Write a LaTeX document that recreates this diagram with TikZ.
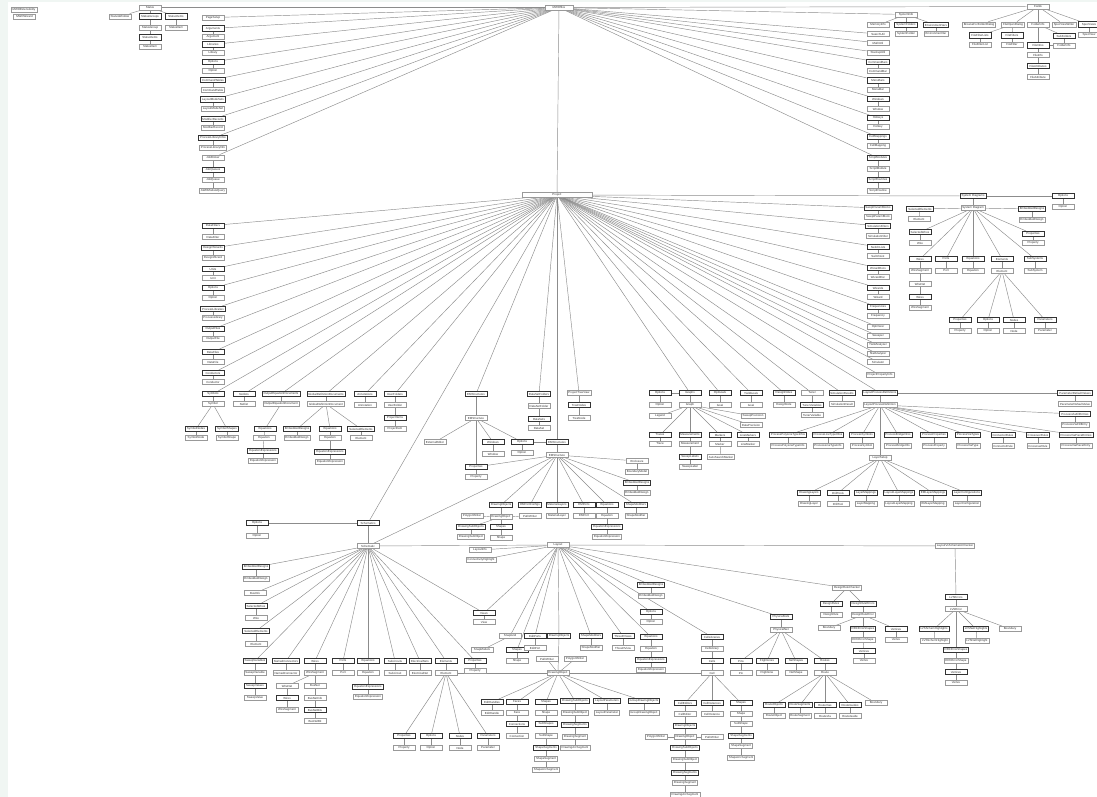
\documentclass[tikz,border=0pt]{standalone}
\usepackage{fontspec}
\setmainfont{Liberation Sans}
\pgfdeclarelayer{bgl}
\pgfdeclarelayer{edges}
\pgfsetlayers{bgl,edges,main}
\definecolor{bandc}{RGB}{240,246,243}
\tikzset{
 box/.style={rectangle, fill=white, minimum width=22pt, minimum height=5.2pt, inner xsep=1.5pt, inner ysep=0pt, font=\fontsize{2.9}{3}\selectfont, text=black!80},
 coll/.style={box, draw=black!80, line width=0.8pt},
 item/.style={box, draw=black!40, line width=0.55pt},
 edge/.style={draw=black!45, line width=0.45pt},
}
\def\mkc#1#2#3#4{\node[coll] (#1) at (#2,#3) {#4};}
\def\mki#1#2#3#4{\node[item] (#1) at (#2,#3) {#4};}
\def\lnk#1#2{\draw[edge] (#1) -- (#2);}
\begin{document}
\begin{tikzpicture}[x=1pt,y=-1pt]
\useasboundingbox (0,0) rectangle (1097,797);
\begin{pgfonlayer}{bgl}
\fill[bandc] (0,0) rectangle (1097,797);
\fill[white] (8,2) rectangle (1097,797);
\end{pgfonlayer}
% ---------- top left
\mki{ext}{24}{9.5}{MWOExtensibility}
\mki{wiz}{24.5}{16.5}{MWOWizard}
\node[item, minimum width=28pt] (mwo) at (559,7.5) {MWOffice};
\mki{status}{150}{7.5}{Status}
\mki{statwin}{120}{16.5}{StatusWindow}
\mkc{stgrps}{150}{16.5}{StatusGroups}
\mkc{stitms}{176}{16.5}{StatusItems}
\mki{stgrp}{150}{27.5}{StatusGroup}
\mkc{stitms2}{150}{37.5}{StatusItems}
\mki{stitm2}{150}{46.5}{StatusItem}
\mki{stitm}{176}{27.5}{StatusItem}
% column 213
\mki{pgs}{213}{17.5}{PageSetup}
\mkc{args}{213}{28.5}{Arguments}
\mki{arg}{213}{37}{Argument}
\mkc{libs}{213}{44.5}{Libraries}
\mki{lib}{213}{52.5}{Library}
\mkc{opts0}{213}{62}{Options}
\mki{opt0}{213}{71}{Option}
\mkc{cmdts}{213}{80}{CommandTables}
\mki{cmdt}{213}{90}{CommandTable}
\mkc{lms}{213}{99.5}{LayoutModeSets}
\mki{lm}{213}{109}{LayoutModeSet}
\mkc{mrs}{213}{119}{ModifierRecords}
\mki{mr}{213}{127.5}{ModifierRecord}
\mkc{plis}{213}{138}{ProcessLibraryInfos}
\mki{pli}{213}{147.5}{ProcessLibraryInfo}
\mki{jb}{213}{157.5}{JobBroker}
\mkc{jqs}{213}{170}{JobQueues}
\mki{jq}{213}{180}{JobQueue}
\mki{awq}{213}{191}{AWRModuleQuery}
% right column 878
\mki{sysinfo}{906}{14.5}{SystemInfo}
\mki{meminfo}{878}{25}{MemoryInfo}
\mkc{sysfs}{906}{25}{SystemFolders}
\mki{sysf}{906}{33.5}{SystemFolder}
\mkc{envs}{936}{25}{EnvironmentVars}
\mki{env}{936}{33.5}{EnvironmentVar}
\mki{srch}{878}{34}{SearchUtil}
\mki{math}{878}{43}{MathUtil}
\mki{stack}{878}{52.5}{StackupUtil}
\mkc{cbars}{878}{62}{CommandBars}
\mki{cbar}{878}{71}{CommandBar}
\mkc{mbars}{878}{80.5}{MenuBars}
\mki{mbar}{878}{90}{MenuBar}
\mkc{wins0}{878}{99}{Windows}
\mki{win0}{878}{109}{Window}
\mkc{hks}{878}{118}{Hotkeys}
\mki{hk}{878}{127}{Hotkey}
\mkc{cms}{878}{137}{CellMappings}
\mki{cm}{878}{146}{CellMapping}
\mkc{sms}{878}{158}{ScriptModules}
\mki{sm}{878}{169}{ScriptModule}
\mkc{srs}{878}{180}{ScriptRoutines}
\mki{sr}{878}{191}{ScriptRoutine}
% fields
\mki{fields}{1038}{6.5}{Fields}
\mki{bffd}{979}{24.5}{BrowseForFolderDialog}
\mki{fod}{1013}{24.5}{FileOpenDialog}
\mki{fldi}{1038}{24.5}{FolderInfo}
\mki{svw}{1064}{24.5}{SpecViewWriter}
\mkc{svs}{1089}{24.5}{SpecViews}
\mki{sv}{1089}{35}{SpecView}
\mkc{ffls}{980}{35.5}{FileFilterLists}
\mki{ffl}{980}{44.5}{FileFilterList}
\mkc{ffs}{1012}{35.5}{FileFilters}
\mki{ff}{1012}{44.5}{FileFilter}
\mkc{fis}{1038}{45.5}{FileInfos}
\mki{fi}{1038}{55}{FileInfo}
\mkc{fas}{1038}{66}{FileAttributes}
\mki{fa}{1038}{77}{FileAttribute}
\mkc{subfs}{1064}{36}{SubFolders}
\mki{subf}{1064}{45.5}{FolderInfo}
% ---------- project
\node[item, minimum width=70pt] (proj) at (557,195) {Project};
% system diagrams
\mkc{sds}{973}{196}{System Diagrams}
\mkc{sdopts}{1063}{196}{Options}
\mki{sdopt}{1063}{207}{Option}
\mki{sd}{973}{208}{System Diagram}
\mkc{sdsel}{920}{209}{SelectedElements}
\mki{sdel}{919}{219}{Element}
\mkc{sdemb}{1032}{209}{EmbeddedDesigns}
\mki{sdembi}{1032}{220}{EmbeddedDesign}
\mkc{sdsw}{920}{232}{SelectedWires}
\mki{sdw}{920}{243}{Wire}
\mkc{sdprops}{1033}{234}{Properties}
\mki{sdprop}{1033}{243}{Property}
\mkc{sdwires}{920}{259}{Wires}
\mki{sdws}{920}{271}{WireSegment}
\mki{sdwn}{920}{284}{WireNet}
\mkc{sdwires2}{920}{297}{Wires}
\mki{sdws2}{920}{308}{WireSegment}
\mkc{sdports}{946}{259}{Ports}
\mki{sdport}{946}{271}{Port}
\mkc{sdeqs}{973}{259}{Equations}
\mki{sdeq}{973}{271}{Equation}
\mkc{sdelems}{1002}{259}{Elements}
\mki{sdelem}{1002}{271}{Element}
\mkc{sdsubs}{1035}{259}{SubSystems}
\mki{sdsub}{1035}{271}{SubSystem}
\mkc{sdeprops}{960}{320}{Properties}
\mki{sdeprop}{960}{331}{Property}
\mkc{sdeopts}{988}{320}{Options}
\mki{sdeopt}{988}{331}{Option}
\mkc{sdenodes}{1014}{320}{Nodes}
\mki{sdenode}{1014}{331}{Node}
\mkc{sdeparams}{1045}{320}{Parameters}
\mki{sdeparam}{1045}{331}{Parameter}
% right column of project
\mkc{spbs}{878}{208}{SweptParamBlocks}
\mki{spb}{878}{217}{SweptParamBlock}
\mkc{sfs}{878}{226}{SimulationFilters}
\mki{sf}{878}{236}{SimulationFilter}
\mkc{sls}{878}{247}{SwitchLists}
\mki{sl}{878}{256}{SwitchList}
\mkc{wds}{878}{268}{WizardDocs}
\mki{wd}{878}{277}{WizardDoc}
\mkc{wzs}{878}{288}{Wizards}
\mki{wz}{878}{297}{Wizard}
\mkc{frqs}{878}{307}{Frequencies}
\mki{frq}{878}{316}{Frequency}
\mki{optz}{878}{327}{Optimizer}
\mki{swp}{878}{336}{Sweeper}
\mki{ya}{878}{345}{YieldAnalyzer}
\mki{na}{878}{354}{StatAnalyzer}
\mki{sim}{878}{362}{Simulator}
\mki{ppi}{880}{375}{ProjectPropertyInfo}
% row 393 right
\mkc{simres}{842}{393}{SimulationResults}
\mki{simr}{842}{404}{SimulationResult}
\mkc{lpds}{880}{393}{LayoutProcessDefinitions}
\mki{lpd}{880}{405}{LayoutProcessDefinition}
\mkc{pdvs}{1075}{393}{ParameterDefaultValues}
\mki{pdv}{1075}{404}{ParameterDefaultValue}
\mkc{pvfs}{1075}{414}{ProcessViaFillEntries}
\mki{pvf}{1075}{425}{ProcessViaFillEntry}
\mkc{pplt}{788}{435}{ProcessPolyLineTypeInfos}
\mki{pplti}{788}{446}{ProcessPolyLineTypeInfo}
\mkc{plt}{828}{435}{ProcessLineTypeInfos}
\mki{plti}{828}{446}{ProcessLineTypeInfo}
\mkc{psym}{862}{435}{ProcessSymbols}
\mki{psymi}{862}{446}{ProcessSymbol}
\mkc{pbri}{898}{435}{ProcessBridgeInfos}
\mki{pbrii}{898}{446}{ProcessBridgeInfo}
\mkc{pprops}{934}{435}{ProcessProperties}
\mki{ppropsi}{934}{446}{ProcessProperty}
\mkc{pvts}{968}{435}{ProcessViaTypes}
\mki{pvtsi}{968}{446}{ProcessViaType}
\mkc{crs}{1003}{435}{ConnectorRules}
\mki{crsi}{1003}{446}{ConnectorRule}
\mkc{xrs}{1038}{435}{CrossoverRules}
\mki{xrsi}{1038}{446}{CrossoverRule}
\mkc{pvps}{1076}{435}{ProcessViaPieceEntries}
\mki{pvpsi}{1076}{446}{ProcessViaPieceEntry}
\mki{lsetup}{880}{458}{LayerSetup}
\mkc{dls}{809}{493}{DrawingLayers}
\mki{dlsi}{809}{504}{DrawingLayer}
\mkc{dts}{838}{493}{DrillTools}
\mki{dtsi}{838}{504}{DrillTool}
\mkc{lmaps}{866}{493}{LayerMappings}
\mki{lmapsi}{866}{504}{LayerMapping}
\mkc{llms}{899}{493}{LayoutLayerMappings}
\mki{llmsi}{899}{504}{LayoutLayerMapping}
\mkc{emlms}{933}{493}{EMLayerMappings}
\mki{emlmsi}{933}{504}{EMLayerMapping}
\mkc{lcs}{967}{493}{LayerConfigurations}
\mki{lcsi}{967}{504}{LayerConfiguration}
% graphs row
\mki{ptv}{579}{393}{ProjectTreeView}
\mkc{tns}{579}{405}{TreeNodes}
\mki{tn}{579}{418}{TreeNode}
\mkc{gopts}{660}{393}{Options}
\mki{gopt}{660}{405}{Option}
\mkc{graphs}{690}{393}{Graphs}
\mki{graph}{690}{405}{Graph}
\mki{legend}{660}{416}{Legend}
\mki{swprec}{753}{416}{SweepPrecision}
\mki{dprec}{751}{425}{DataPrecision}
\mkc{traces}{660}{435}{Traces}
\mki{trace}{660}{444}{Trace}
\mkc{meas}{690}{435}{Measurements}
\mki{mea}{690}{444}{Measurement}
\mkc{swls}{690}{457}{SweepLabels}
\mki{swl}{690}{467}{SweepLabel}
\mkc{markers}{720}{435}{Markers}
\mki{marker}{720}{444}{Marker}
\mki{asm}{721}{457}{AutoSearchMarker}
\mkc{lmarkers}{748}{435}{LineMarkers}
\mki{lmarker}{748}{444}{LineMarker}
\mkc{ogoals}{720}{393}{OptGoals}
\mki{ogoal}{720}{405}{Goal}
\mkc{ygoals}{751}{393}{YieldGoals}
\mki{ygoal}{751}{405}{Goal}
\mkc{dnotes}{784}{393}{DesignNotes}
\mki{dnote}{784}{405}{DesignNote}
\mki{tuner}{812}{393}{Tuner}
\mkc{tvars}{812}{405}{TunerVariables}
\mki{tvar}{812}{415}{TunerVariable}
% left column 213
\mkc{sfilt}{213}{225.5}{DataFilters}
\mki{sfi}{213}{237}{DataFilter}
\mkc{dwz}{213}{248}{DesignWizards}
\mki{dwzi}{213}{258}{DesignWizard}
\mkc{units}{213}{269}{Units}
\mki{unit}{213}{278}{Unit}
\mkc{popts}{213}{288}{Options}
\mki{popt}{213}{297.5}{Option}
\mkc{plibs}{213}{309}{ProcessLibraries}
\mki{plib}{213}{318}{ProcessLibrary}
\mkc{ofiles}{213}{329}{OutputFiles}
\mki{ofile}{213}{339}{OutputFile}
\mkc{dfiles}{213}{352}{DataFiles}
\mki{dfile}{213}{362}{DataFile}
\mkc{conds}{213}{373}{Conductors}
\mki{cond}{213}{382}{Conductor}
\mkc{syms}{213}{394}{Symbols}
\mki{sym}{213}{404}{Symbol}
\mkc{symnodes}{196}{429}{SymbolNodes}
\mki{symnode}{196}{438}{SymbolNode}
\mkc{symshapes}{227}{429}{SymbolShapes}
\mki{symshape}{227}{438}{SymbolShape}
\mkc{netlists}{244}{394}{Netlists}
\mki{netlist}{244}{404}{Netlist}
\mkc{oeds}{281}{394}{OutputEquationDocuments}
\mki{oed}{281}{404}{OutputEquationDocument}
\mkc{oeqs}{265}{429}{Equations}
\mki{oeq}{264}{438}{Equation}
\mkc{oeqxs}{263}{451}{EquationExpressions}
\mki{oeqx}{263}{461}{EquationExpression}
\mkc{gdds}{326}{394}{GlobalDefinitionDocuments}
\mki{gdd}{326}{404}{GlobalDefinitionDocument}
\mkc{gembs}{297}{429}{EmbeddedDesigns}
\mki{gemb}{297}{438}{EmbeddedDesign}
\mkc{geqs}{330}{429}{Equations}
\mki{geq}{330}{438}{Equation}
\mkc{geqxs}{330}{452}{EquationExpressions}
\mki{geqx}{330}{462}{EquationExpression}
\mkc{gsels}{361}{429}{SelectedElements}
\mki{gsel}{361}{438}{Element}
\mkc{annos}{365}{394}{Annotations}
\mki{anno}{365}{405}{Annotation}
\mkc{ufs}{395}{394}{UserFolders}
\mki{uf}{395}{405}{UserFolder}
\mkc{pis}{395}{418}{ProjectItems}
\mki{pi}{395}{429}{ProjectItem}
\mkc{ems}{476}{394}{EMStructures}
\mki{em}{476}{418}{EMStructure}
\mkc{dsfs}{539}{394}{DataSetFolders}
\mki{dsf}{539}{406}{DataSetFolder}
\mkc{dss}{539}{419}{DataSets}
\mki{ds}{539}{428}{DataSet}
% EM structure
\mki{exted}{435}{442}{ExternalEditor}
\mkc{emwins}{493}{442}{Windows}
\mki{emwin}{493}{454}{Window}
\mkc{emopts}{522}{442}{Options}
\mki{emopt}{522}{453}{Option}
\mkc{emlays}{557}{442}{EMStructures}
\mki{emlay}{557}{455}{EMStructure}
\mkc{emprops}{476}{467}{Properties}
\mki{emprop}{476}{477}{Property}
\mki{encl}{637}{461}{Enclosure}
\mki{bmod}{637}{472}{BoundaryModel}
\mkc{emembs}{637}{483}{EmbeddedDesigns}
\mki{ememb}{637}{493}{EmbeddedDesign}
\mkc{dobjs}{501}{505}{DrawingObjects}
\mki{dobj}{501}{517}{DrawingObject}
\mkc{empc}{530}{505}{EMPortConfigs}
\mkc{mls}{557}{505}{MaterialLayers}
\mki{ml}{557}{516}{MaterialLayer}
\mkc{emports}{584}{505}{EMPorts}
\mki{emport}{584}{516}{EMPort}
\mkc{emeqs}{607}{505}{Equations}
\mki{emeq}{607}{516}{Equation}
\mkc{emeqxs}{607}{527}{EquationExpressions}
\mki{emeqx}{607}{537}{EquationExpression}
\mkc{emsms}{636}{505}{ShapeModifiers}
\mki{emsm}{636}{516}{ShapeModifier}
\mki{polyw}{472}{516}{PolygonWriter}
\mki{pathw}{530}{516}{PathWriter}
\mkc{dsubs}{471}{527}{DrawingSubObjects}
\mki{dsub}{471}{537}{DrawingSubObject}
\mkc{eshapes}{501}{527}{Shapes}
\mki{eshape}{501}{538}{Shape}
% schematic
\mkc{schopts}{257}{523}{Options}
\mki{schopt}{257}{536}{Option}
\mkc{schs}{368}{523}{Schematics}
\mki{sch}{368}{546}{Schematic}
\mki{linfo}{480}{550}{LayoutInfo}
\mki{chl}{481}{560}{ConnectivityHighlight}
\mkc{schembs}{256}{567}{EmbeddedDesigns}
\mki{schemb}{256}{579}{EmbeddedDesign}
\mki{businfo}{255}{593}{BusInfo}
\mkc{schsw}{256}{606}{SelectedWires}
\mki{schw}{256}{618}{Wire}
\mkc{schsel}{256}{631}{SelectedElements}
\mki{schel}{256}{644}{Element}
\mkc{swvars}{255}{661}{SweepVariables}
\mki{swvar}{255}{673}{SweepVariable}
\mkc{swvals}{255}{686}{SweepValues}
\mki{swval}{255}{698}{SweepValue}
\mkc{ncs}{286}{661}{NamedConnectors}
\mki{nc}{286}{673}{NamedConnector}
\mkc{schwires}{315}{661}{Wires}
\mki{schws}{315}{673}{WireSegment}
\mki{wnet}{287}{686}{WireNet}
\mkc{wires3}{287}{698}{Wires}
\mki{ws3}{287}{710}{WireSegment}
\mki{bnet}{315}{686}{BusNet}
\mki{bninfo}{315}{698}{BusNetInfo}
\mkc{bnbits}{315}{710}{BusNetBits}
\mki{bnbit}{315}{721}{BusNetBit}
\mkc{schports}{343}{661}{Ports}
\mki{schport}{343}{673}{Port}
\mkc{scheqs}{368}{661}{Equations}
\mki{scheq}{368}{673}{Equation}
\mkc{scheqxs}{368}{687}{EquationExpressions}
\mki{scheqx}{368}{697}{EquationExpression}
\mkc{subcs}{395}{661}{Subcircuits}
\mki{subc}{395}{673}{Subcircuit}
\mkc{enets}{420}{661}{ElectricalNets}
\mki{enet}{420}{673}{ElectricalNet}
\mkc{selems}{446}{661}{Elements}
\mki{selem}{446}{673}{Element}
\mkc{sprops}{475}{661}{Properties}
\mki{sprop}{475}{671}{Property}
\mkc{seprops}{404}{736}{Properties}
\mki{seprop}{404}{748}{Property}
\mkc{seopts}{431}{736}{Options}
\mki{seopt}{431}{748}{Option}
\mkc{senodes}{460}{736}{Nodes}
\mki{senode}{460}{748}{Node}
\mkc{separams}{488}{736}{Parameters}
\mki{separam}{488}{748}{Parameter}
\mkc{views}{484}{613}{Views}
\mki{view}{484}{622}{View}
% layout
\mki{layout}{558}{545}{Layout}
\mki{snapgrid}{510}{636}{SnapGrid}
\mki{snapmodels}{482}{650}{SnapModels}
\mkc{lshapes}{517}{650}{Shapes}
\mki{lshape}{517}{661}{Shape}
\mkc{editports}{535}{636}{EditPorts}
\mki{editport}{535}{648}{EditPort}
\mkc{ldobjs}{559}{636}{DrawingObjects}
\mki{lpathw}{547}{659}{PathWriter}
\mki{lpolyw}{575}{659}{PolygonWriter}
\mki{ldobj}{558}{673}{DrawingObject}
\mkc{lsms}{591}{636}{ShapeModifiers}
\mki{lsm}{591}{648}{ShapeModifier}
\mkc{l3d}{623}{636}{ThreeDViews}
\mki{l3dv}{623}{648}{ThreeDView}
\mkc{lembs}{651}{585}{EmbeddedDesigns}
\mki{lemb}{651}{596}{EmbeddedDesign}
\mkc{lopts}{651}{612}{Options}
\mki{lopt}{651}{622}{Option}
\mkc{leqs}{651}{637}{Equations}
\mki{leq}{651}{649}{Equation}
\mkc{leqxs}{651}{660}{EquationExpressions}
\mki{leqx}{651}{670}{EquationExpression}
\mkc{cls}{712}{637}{CellLibraries}
\mki{cl}{712}{649}{CellLibrary}
\mkc{cells}{712}{661}{Cells}
\mki{cell}{712}{673}{Cell}
\mkc{ehs}{492}{702}{EditHandles}
\mki{eh}{492}{713}{EditHandle}
\mkc{faces}{517}{702}{Faces}
\mki{face}{517}{713}{Face}
\mkc{conns}{517}{724}{Connections}
\mki{conn}{517}{736}{Connection}
\mkc{dshapes}{546}{702}{Shapes}
\mki{dshape}{546}{713}{Shape}
\mkc{dsss}{546}{724}{SubShapes}
\mki{dssi}{546}{736}{SubShape}
\mkc{dsegs}{546}{748}{ShapeSegments}
\mki{dseg}{546}{759}{ShapeSegment}
\mki{darc}{546}{770}{ShapeArcSegment}
\mkc{ldsubs}{575}{701}{DrawingSubObjects}
\mki{ldsub}{575}{713}{DrawingSubObject}
\mkc{ldsegs}{575}{725}{DrawingSegments}
\mki{ldseg}{575}{737}{DrawingSegment}
\mki{ldarc}{575}{748}{DrawingArcSegment}
\mkc{lps}{607}{701}{LayoutParameters}
\mki{lp}{607}{713}{LayoutParameter}
\mkc{gdos}{644}{701}{GroupDrawingObjects}
\mki{gdo}{644}{713}{GroupDrawingObject}
\mkc{ceds}{685}{703}{CellEditors}
\mki{ced}{685}{714}{CellEditor}
\mkc{cdobjs}{685}{726}{DrawingObjects}
\mki{cdobj}{685}{737}{DrawingObject}
\mki{cpolyw}{656}{737}{PolygonWriter}
\mki{cpathw}{712}{737}{PathWriter}
\mkc{cdsubs}{685}{748}{DrawingSubObjects}
\mki{cdsub}{685}{760}{DrawingSubObject}
\mkc{cdsegs}{685}{773}{DrawingSegments}
\mki{cdseg}{685}{783}{DrawingSegment}
\mki{cdarc}{685}{794.5}{DrawingArcSegment}
\mkc{cinsts}{712}{703}{CellInstances}
\mki{cinst}{712}{714}{CellInstance}
\mkc{cshapes}{741}{703}{Shapes}
\mki{cshape}{741}{714}{Shape}
\mki{csub}{741}{724}{SubShape}
\mkc{csegs}{741}{736}{ShapeSegments}
\mki{cseg}{741}{746}{ShapeSegment}
\mki{carc}{741}{758}{ShapeArcSegment}
\mkc{pnets}{781}{617}{PhysicalNets}
\mki{pnet}{781}{630}{PhysicalNet}
\mkc{pins}{741}{661}{Pins}
\mki{pin}{741}{673}{Pin}
\mkc{fls}{767}{661}{FlightLines}
\mki{fl}{767}{673}{FlightLine}
\mkc{nss}{796}{661}{NetShapes}
\mki{ns}{796}{673}{NetShape}
\mkc{routes}{825}{661}{Routes}
\mki{route}{825}{673}{Route}
\mkc{robjs}{774}{705}{RouteObjects}
\mki{robj}{774}{716}{RouteObject}
\mkc{rsegs}{800}{705}{RouteSegments}
\mki{rseg}{800}{716}{RouteSegment}
\mkc{rvias}{825}{705}{RouteVias}
\mki{rvia}{825}{716}{RouteVia}
\mkc{rguides}{850}{705}{RouteGuides}
\mki{rguide}{850}{716}{RouteGuide}
\mki{rbound}{876}{703}{Boundary}
\mki{drc}{847}{588}{DesignRuleChecker}
\mkc{drs}{831}{604}{DesignRules}
\mki{dr}{831}{615}{DesignRule}
\mkc{dres}{863}{604}{DesignRuleErrors}
\mki{dre}{863}{615}{DesignRuleError}
\mki{dbound}{829}{628}{Boundary}
\mkc{deshapes}{863}{629}{DRCErrorShapes}
\mki{deshape}{863}{640}{DRCErrorShape}
\mkc{dverts}{864}{651}{Vertices}
\mki{dvert}{864}{661}{Vertex}
\mkc{dverts2}{896}{629}{Vertices}
\mki{dvert2}{896}{640}{Vertex}
\mki{lvs}{955}{546}{LayoutVsSchematicChecker}
\mkc{lvserrs}{956}{597}{LVSErrors}
\mki{lvserr}{956}{609}{LVSError}
\mkc{lsh}{934}{629}{LVSSchemHighlights}
\mki{lshi}{935}{641}{LVSSchemHighlight}
\mkc{lnh}{976}{629}{LVSNetHighlights}
\mki{lnhi}{977}{641}{LVSNetHighlight}
\mki{lbound}{1010}{629}{Boundary}
\mkc{ldes}{956}{650}{DRCErrorShapes}
\mki{lde}{956}{661}{DRCErrorShape}
\mkc{lverts}{956}{672}{Vertices}
\mki{lvert}{956}{683}{Vertex}
% ================= edges
\begin{pgfonlayer}{edges}
\lnk{mwo}{status}\lnk{status}{statwin}\lnk{status}{stgrps}\lnk{status}{stitms}
\lnk{stgrps}{stgrp}\lnk{stgrp}{stitms2}\lnk{stitms2}{stitm2}\lnk{stitms}{stitm}
\foreach \t in {pgs,args,libs,opts0,cmdts,lms,mrs,plis,jb,sysinfo,srch,math,stack,cbars,mbars,wins0,hks,cms,sms,fields,proj}{\lnk{mwo}{\t}}
\lnk{args}{arg}\lnk{libs}{lib}\lnk{opts0}{opt0}\lnk{cmdts}{cmdt}\lnk{lms}{lm}\lnk{mrs}{mr}\lnk{plis}{pli}
\lnk{jb}{jqs}\lnk{jqs}{jq}\lnk{jq}{awq}
\lnk{sysinfo}{meminfo}\lnk{sysinfo}{sysfs}\lnk{sysinfo}{envs}\lnk{sysfs}{sysf}\lnk{envs}{env}
\lnk{cbars}{cbar}\lnk{mbars}{mbar}\lnk{wins0}{win0}\lnk{hks}{hk}\lnk{cms}{cm}\lnk{sms}{sm}\lnk{sm}{srs}\lnk{srs}{sr}
\foreach \t in {bffd,fod,fldi,svw,svs}{\lnk{fields}{\t}}
\lnk{svs}{sv}\lnk{fod}{ffls}\lnk{fod}{ffs}\lnk{ffls}{ffl}\lnk{ffs}{ff}
\lnk{fldi}{fis}\lnk{fldi}{subfs}\lnk{subfs}{subf}\lnk{fis}{subf}\lnk{fis}{fi}\lnk{fi}{fas}\lnk{fas}{fa}
% project
\foreach \t in {sfilt,dwz,units,popts,plibs,ofiles,dfiles,conds,syms,netlists,oeds,gdds,annos,ufs,ems,dsfs,ptv,graphs,ogoals,ygoals,dnotes,tuner,simres,lpds,spbs,sfs,sls,wds,wzs,frqs,optz,swp,ya,na,sim,ppi,sds,schs,emlays}{\lnk{proj}{\t}}
\lnk{sds}{sdopts}\lnk{sdopts}{sdopt}\lnk{sds}{sd}
\foreach \t in {sdsel,sdemb,sdsw,sdprops,sdwires,sdports,sdeqs,sdelems,sdsubs}{\lnk{sd}{\t}}
\lnk{sdsel}{sdel}\lnk{sdemb}{sdembi}\lnk{sdsw}{sdw}\lnk{sdprops}{sdprop}
\lnk{sdwires}{sdws}\lnk{sdws}{sdwn}\lnk{sdwn}{sdwires2}\lnk{sdwires2}{sdws2}
\lnk{sdports}{sdport}\lnk{sdeqs}{sdeq}\lnk{sdelems}{sdelem}\lnk{sdsubs}{sdsub}
\foreach \t in {sdeprops,sdeopts,sdenodes,sdeparams}{\lnk{sdelem}{\t}}
\lnk{sdeprops}{sdeprop}\lnk{sdeopts}{sdeopt}\lnk{sdenodes}{sdenode}\lnk{sdeparams}{sdeparam}
\lnk{spbs}{spb}\lnk{sfs}{sf}\lnk{sls}{sl}\lnk{wds}{wd}\lnk{wzs}{wz}\lnk{frqs}{frq}
\lnk{simres}{simr}\lnk{lpds}{lpd}\lnk{lpds}{pdvs}\lnk{pdvs}{pdv}\lnk{lpd}{pvfs}\lnk{pvfs}{pvf}
\foreach \a/\b in {pplt/pplti,plt/plti,psym/psymi,pbri/pbrii,pprops/ppropsi,pvts/pvtsi,crs/crsi,xrs/xrsi,pvps/pvpsi}{\lnk{lpd}{\a}\lnk{\a}{\b}}
\lnk{lpd}{lsetup}
\foreach \a/\b in {dls/dlsi,dts/dtsi,lmaps/lmapsi,llms/llmsi,emlms/emlmsi,lcs/lcsi}{\lnk{lsetup}{\a}\lnk{\a}{\b}}
\lnk{ptv}{tns}\lnk{tns}{tn}\lnk{gopts}{graphs}\lnk{gopts}{gopt}\lnk{graphs}{graph}
\foreach \t in {legend,swprec,dprec,traces,meas,markers,lmarkers}{\lnk{graph}{\t}}
\lnk{traces}{trace}\lnk{meas}{mea}\lnk{mea}{swls}\lnk{swls}{swl}\lnk{markers}{marker}\lnk{marker}{asm}\lnk{lmarkers}{lmarker}
\lnk{ogoals}{ogoal}\lnk{ygoals}{ygoal}\lnk{dnotes}{dnote}\lnk{tuner}{tvars}\lnk{tvars}{tvar}
\lnk{sfilt}{sfi}\lnk{dwz}{dwzi}\lnk{units}{unit}\lnk{popts}{popt}\lnk{plibs}{plib}\lnk{ofiles}{ofile}\lnk{dfiles}{dfile}\lnk{conds}{cond}
\lnk{syms}{sym}\lnk{sym}{symnodes}\lnk{sym}{symshapes}\lnk{symnodes}{symnode}\lnk{symshapes}{symshape}
\lnk{netlists}{netlist}\lnk{oeds}{oed}\lnk{oed}{oeqs}\lnk{oeqs}{oeq}\lnk{oeq}{oeqxs}\lnk{oeqxs}{oeqx}
\lnk{gdds}{gdd}\lnk{gdd}{gembs}\lnk{gdd}{geqs}\lnk{gdd}{gsels}\lnk{gembs}{gemb}\lnk{geqs}{geq}\lnk{geq}{geqxs}\lnk{geqxs}{geqx}\lnk{gsels}{gsel}
\lnk{annos}{anno}\lnk{ufs}{uf}\lnk{uf}{pis}\lnk{pis}{pi}\lnk{dsfs}{dsf}\lnk{dsf}{dss}\lnk{dss}{ds}
% EM
\lnk{ems}{em}\lnk{em}{exted}\lnk{em}{emwins}\lnk{em}{emopts}\lnk{em}{emprops}
\lnk{emwins}{emwin}\lnk{emopts}{emopt}\lnk{emopts}{emlays}\lnk{emlays}{emlay}\lnk{emprops}{emprop}\lnk{emlay}{emprops}
\foreach \t in {encl,emembs,dobjs,empc,mls,emports,emeqs,emsms}{\lnk{emlay}{\t}}
\lnk{encl}{bmod}\lnk{emembs}{ememb}\lnk{dobjs}{dobj}\lnk{dobj}{polyw}\lnk{dobj}{pathw}\lnk{dobj}{dsubs}\lnk{dobj}{eshapes}
\lnk{dsubs}{dsub}\lnk{eshapes}{eshape}\lnk{mls}{ml}\lnk{emports}{emport}\lnk{emeqs}{emeq}\lnk{emeq}{emeqxs}\lnk{emeqxs}{emeqx}\lnk{emsms}{emsm}
% schematic
\lnk{schopts}{schs}\lnk{schopts}{schopt}\lnk{schs}{sch}\lnk{sch}{layout}\lnk{sch}{emlay}
\foreach \t in {schembs,businfo,schsw,schsel,swvars,ncs,schwires,schports,scheqs,subcs,enets,selems,sprops,views}{\lnk{sch}{\t}}
\lnk{schembs}{schemb}\lnk{schsw}{schw}\lnk{schsel}{schel}\lnk{swvars}{swvar}\lnk{swvar}{swvals}\lnk{swvals}{swval}
\lnk{ncs}{nc}\lnk{schwires}{schws}\lnk{schws}{wnet}\lnk{wnet}{wires3}\lnk{wires3}{ws3}
\lnk{schws}{bnet}\lnk{bnet}{bninfo}\lnk{bninfo}{bnbits}\lnk{bnbits}{bnbit}
\lnk{schports}{schport}\lnk{scheqs}{scheq}\lnk{scheq}{scheqxs}\lnk{scheqxs}{scheqx}
\lnk{subcs}{subc}\lnk{enets}{enet}\lnk{selems}{selem}\lnk{sprops}{sprop}\lnk{views}{view}
\foreach \a/\b in {seprops/seprop,seopts/seopt,senodes/senode,separams/separam}{\lnk{selem}{\a}\lnk{\a}{\b}}
\lnk{selem}{ldobj}
% layout
\foreach \t in {linfo,chl,views,snapgrid,lshapes,editports,ldobjs,lsms,l3d,lembs,lopts,leqs,cls,pnets,drc,lvs}{\lnk{layout}{\t}}
\lnk{snapgrid}{snapmodels}\lnk{lshapes}{lshape}\lnk{editports}{editport}\lnk{ldobjs}{ldobj}\lnk{ldobj}{lpathw}\lnk{ldobj}{lpolyw}
\lnk{lsms}{lsm}\lnk{l3d}{l3dv}\lnk{lembs}{lemb}\lnk{lopts}{lopt}\lnk{leqs}{leq}\lnk{leq}{leqxs}\lnk{leqxs}{leqx}
\lnk{cls}{cl}\lnk{cl}{cells}\lnk{cells}{cell}\lnk{ldobj}{cell}
\foreach \t in {ehs,faces,dshapes,ldsubs,lps,gdos}{\lnk{ldobj}{\t}}
\lnk{ehs}{eh}\lnk{faces}{face}\lnk{face}{conns}\lnk{conns}{conn}
\lnk{dshapes}{dshape}\lnk{dshape}{dsss}\lnk{dsss}{dssi}\lnk{dssi}{dsegs}\lnk{dsegs}{dseg}\lnk{dseg}{darc}
\lnk{ldsubs}{ldsub}\lnk{ldsub}{ldsegs}\lnk{ldsegs}{ldseg}\lnk{ldseg}{ldarc}\lnk{lps}{lp}\lnk{gdos}{gdo}
\lnk{cell}{ceds}\lnk{cell}{cinsts}\lnk{cell}{cshapes}
\lnk{ceds}{ced}\lnk{ced}{cdobjs}\lnk{cdobjs}{cdobj}\lnk{cdobj}{cpolyw}\lnk{cdobj}{cpathw}
\lnk{cdobj}{cdsubs}\lnk{cdsubs}{cdsub}\lnk{cdsub}{cdsegs}\lnk{cdsegs}{cdseg}\lnk{cdseg}{cdarc}
\lnk{cinsts}{cinst}\lnk{cshapes}{cshape}\lnk{cshape}{csub}\lnk{csub}{csegs}\lnk{csegs}{cseg}\lnk{cseg}{carc}
\lnk{pnets}{pnet}
\foreach \a/\b in {pins/pin,fls/fl,nss/ns,routes/route}{\lnk{pnet}{\a}\lnk{\a}{\b}}
\foreach \a/\b in {robjs/robj,rsegs/rseg,rvias/rvia,rguides/rguide}{\lnk{route}{\a}\lnk{\a}{\b}}
\lnk{route}{rbound}
\lnk{drc}{drs}\lnk{drc}{dres}\lnk{drs}{dr}\lnk{dres}{dre}\lnk{dre}{dbound}\lnk{dre}{deshapes}\lnk{dre}{dverts2}
\lnk{deshapes}{deshape}\lnk{deshape}{dverts}\lnk{dverts}{dvert}\lnk{dverts2}{dvert2}
\lnk{lvs}{lvserrs}\lnk{lvserrs}{lvserr}\lnk{lvserr}{lsh}\lnk{lvserr}{lnh}\lnk{lvserr}{lbound}\lnk{lvserr}{ldes}
\lnk{lsh}{lshi}\lnk{lnh}{lnhi}\lnk{ldes}{lde}\lnk{lde}{lverts}\lnk{lverts}{lvert}
\end{pgfonlayer}
\end{tikzpicture}
\end{document}
